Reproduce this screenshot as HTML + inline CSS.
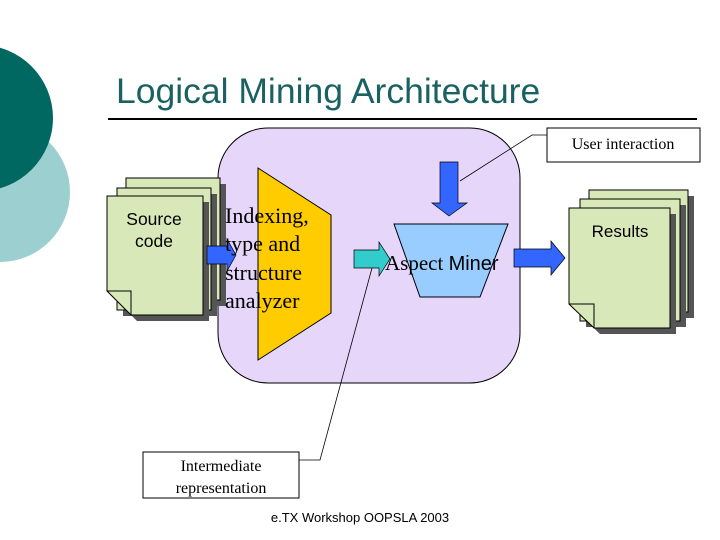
<!DOCTYPE html>
<html><head><style>body{margin:0;background:#fff}svg{display:block}</style></head><body>
<svg width="720" height="540" viewBox="0 0 720 540" xmlns="http://www.w3.org/2000/svg">
<circle cx="0" cy="192" r="70" fill="#9ccfcf"/>
<circle cx="-20" cy="118" r="73" fill="#006860"/>
<text x="116" y="103" font-family="Liberation Sans, sans-serif" font-size="35.5" fill="#1a6262">Logical Mining Architecture</text>
<line x1="108" y1="119" x2="697" y2="119" stroke="#000" stroke-width="2"/>
<rect x="218" y="128" width="302" height="255" rx="50" fill="#e6d6fa" stroke="#000" stroke-width="1"/>
<g stroke="#000" stroke-width="1">
<rect x="132" y="184" width="94" height="122" fill="#555" stroke="none"/>
<rect x="126" y="178" width="94" height="122" fill="#d9e8b8"/>
<rect x="123" y="194" width="94" height="122" fill="#555" stroke="none"/>
<rect x="117" y="188" width="94" height="122" fill="#d9e8b8"/>
<path d="M113 202 H209 V321 H137 L113 297 Z" fill="#555" stroke="none"/>
<path d="M107 196 H203 V315 H131 L107 291 Z" fill="#d9e8b8"/>
<path d="M107 291 H131 V315" fill="none"/>
</g>
<text font-family="Liberation Sans, sans-serif" font-size="17.5" text-anchor="middle"><tspan x="154" y="225">Source</tspan><tspan x="154" y="247">code</tspan></text>
<polygon points="258,168 331,215 331,313 258,360" fill="#ffcc00" stroke="#000"/>
<polygon points="207,246 227,246 227,239 236,255 227,271 227,264 207,264" fill="#3366ff" stroke="#000" stroke-width="0.7"/>
<text font-family="Liberation Serif, serif" font-size="22"><tspan x="225" y="223">Indexing,</tspan><tspan x="225" y="251">type and</tspan><tspan x="225" y="280">structure</tspan><tspan x="225" y="308">analyzer</tspan></text>
<polygon points="394,224 508,224 480,297 420,297" fill="#99ccff" stroke="#000"/>
<polygon points="354,250 379,250 379,242 390,259 379,276 379,268 354,268" fill="#33cccc" stroke="#000" stroke-width="0.7"/>
<polygon points="440,162 458,162 458,203 467,203 449,216 432,203 440,203" fill="#3366ff" stroke="#000" stroke-width="0.7"/>
<text x="385" y="270" font-family="Liberation Serif, serif" font-size="21">Aspect <tspan font-family="Liberation Sans, sans-serif" font-size="20">Miner</tspan></text>
<polygon points="514,249 551,249 551,241 565,258 551,275 551,267 514,267" fill="#3366ff" stroke="#000" stroke-width="0.7"/>
<g stroke="#000" stroke-width="1">
<rect x="595" y="196" width="99" height="122" fill="#555" stroke="none"/>
<rect x="589" y="190" width="99" height="122" fill="#d9e8b8"/>
<rect x="586" y="205" width="100" height="122" fill="#555" stroke="none"/>
<rect x="580" y="199" width="100" height="122" fill="#d9e8b8"/>
<path d="M575 214 H676 V334 H600 L575 310 Z" fill="#555" stroke="none"/>
<path d="M569 208 H670 V328 H594 L569 304 Z" fill="#d9e8b8"/>
<path d="M569 304 H594 V328" fill="none"/>
</g>
<text x="620" y="237" font-family="Liberation Sans, sans-serif" font-size="17" text-anchor="middle">Results</text>
<polyline points="547,135 532,135 460,181" fill="none" stroke="#000" stroke-width="0.8"/>
<rect x="547" y="128" width="153" height="34" fill="#fff" stroke="#000"/>
<text x="623" y="149" font-family="Liberation Serif, serif" font-size="16" text-anchor="middle">User interaction</text>
<polyline points="299,460 320,460 372,268" fill="none" stroke="#000" stroke-width="0.8"/>
<rect x="143" y="452" width="156" height="46" fill="#fff" stroke="#000"/>
<text font-family="Liberation Serif, serif" font-size="16" text-anchor="middle"><tspan x="221" y="471">Intermediate</tspan><tspan x="221" y="493">representation</tspan></text>
<text x="360" y="522" font-family="Liberation Sans, sans-serif" font-size="13" text-anchor="middle">e.TX Workshop OOPSLA 2003</text>
</svg>
</body></html>
